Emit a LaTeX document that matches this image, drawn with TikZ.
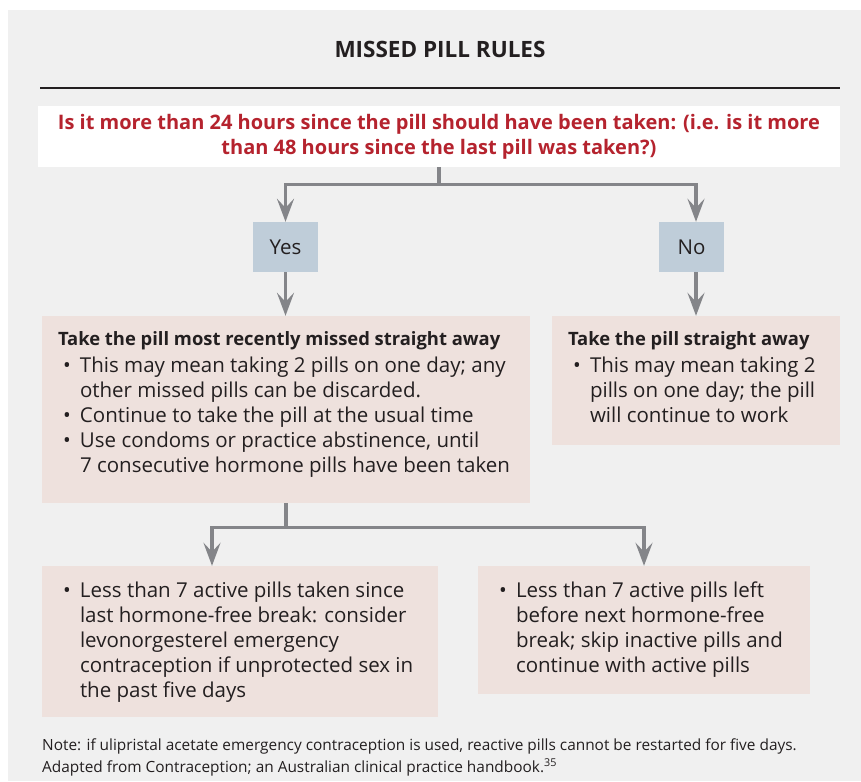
\documentclass[tikz,border=0pt]{standalone}
\usepackage{fontspec}
\setmainfont{Open Sans}
\usetikzlibrary{arrows.meta}

\definecolor{fond}{HTML}{F0F0F0}
\definecolor{rouge}{HTML}{B5232E}
\definecolor{bleu}{HTML}{BFCDD9}
\definecolor{rose}{HTML}{EEE1DD}
\definecolor{gris}{HTML}{848589}
\definecolor{encre}{HTML}{231F20}

\newcommand\pillitem[1]{\par\hangindent=22pt\hangafter=1\noindent\hspace*{5pt}\makebox[17pt][l]{\textbullet}#1}
\newcommand\pillhead[1]{{\fontsize{18.4}{25}\selectfont\textbf{#1}\par}\vspace{2pt}}
\newcommand\pillbody[3]{\parbox[c][#2][t]{#1}{\raggedright #3}}

\begin{document}
\begin{tikzpicture}
  [x=1pt, y=-1pt,
  every node/.style={text=encre}]
  \tikzset{
    base/.style={
      inner xsep=16pt, inner ysep=16pt,
      font=\fontsize{20.5}{25}\selectfont,
    },
    question/.style={
      fill=white, inner sep=0pt,
      minimum width=802pt, minimum height=61pt,
      align=center, text=rouge,
      font=\fontsize{20}{25}\selectfont\bfseries,
    },
    reponse/.style={
      base, fill=bleu, inner sep=0pt,
      minimum width=65pt, minimum height=50pt,
    },
    consigne/.style={
      base, fill=rose,
    },
    fleche/.style={draw=gris, line width=3.3pt,
      -{Stealth[length=23pt, width=17pt, inset=9pt]}},
  }

  \useasboundingbox (0,0) rectangle (861,781);
  \fill[fond] (8,10) rectangle (861,781);

  \node[anchor=base, font=\fontsize{22.5}{25}\selectfont\bfseries] (titre) at (440,58) {MISSED PILL RULES};
  \draw[encre, line width=1.5pt] (40,88) -- (840,88);

  \node[question] (q) at (439,136.5)
    {Is it more than 24 hours since the pill should have been taken: (i.e. is it more\\
     than 48 hours since the last pill was taken?)};

  \node[reponse] (yes) at (285.5,247) {Yes};
  \node[reponse] (no)  at (691.5,247) {No};

  \node[consigne] (gauche) at (286,409.5) {\pillbody{456pt}{155pt}{%
    \pillhead{Take the pill most recently missed straight away}
    \pillitem{This may mean taking 2 pills on one day; any\newline other missed pills can be discarded.}
    \pillitem{Continue to take the pill at the usual time}
    \pillitem{Use condoms or practice abstinence, until\newline 7 consecutive hormone pills have been taken}}};

  \node[consigne] (droite) at (696,380.5) {\pillbody{256pt}{97pt}{%
    \pillhead{Take the pill straight away}
    \pillitem{This may mean taking 2\newline pills on one day; the pill\newline will continue to work}}};

  \node[consigne] (basg) at (240,641.5) {\pillbody{364pt}{119pt}{%
    \pillitem{Less than 7 active pills taken since\newline last hormone-free break: consider\newline levonorgesterel emergency\newline contraception if unprotected sex in\newline the past five days}}};

  \node[consigne] (basd) at (644,630) {\pillbody{300pt}{96pt}{%
    \pillitem{Less than 7 active pills left\newline before next hormone-free\newline break; skip inactive pills and\newline continue with active pills}}};

  \node[anchor=base west, align=left, inner sep=0pt, font=\fontsize{15.4}{22}\selectfont] (note) at (42,772)
    {Note: if ulipristal acetate emergency contraception is used, reactive pills cannot be restarted for five days.\\
     Adapted from Contraception; an Australian clinical practice handbook.\textsuperscript{35}};

  % connecteurs
  \draw[fleche] (q.south) -- ++(0,17) -| (yes.north);
  \draw[fleche] (q.south) -- ++(0,17) -| (no.north -| droite.north);
  \draw[fleche] (yes.south) -- (yes.south |- gauche.north);
  \draw[fleche] (no.south -| droite.north) -- (droite.north);
  \draw[fleche] (gauche.south) -- ++(0,24) -| ([xshift=-28pt]basg.north);
  \draw[fleche] (gauche.south) -- ++(0,24) -| (basd.north);
\end{tikzpicture}
\end{document}
